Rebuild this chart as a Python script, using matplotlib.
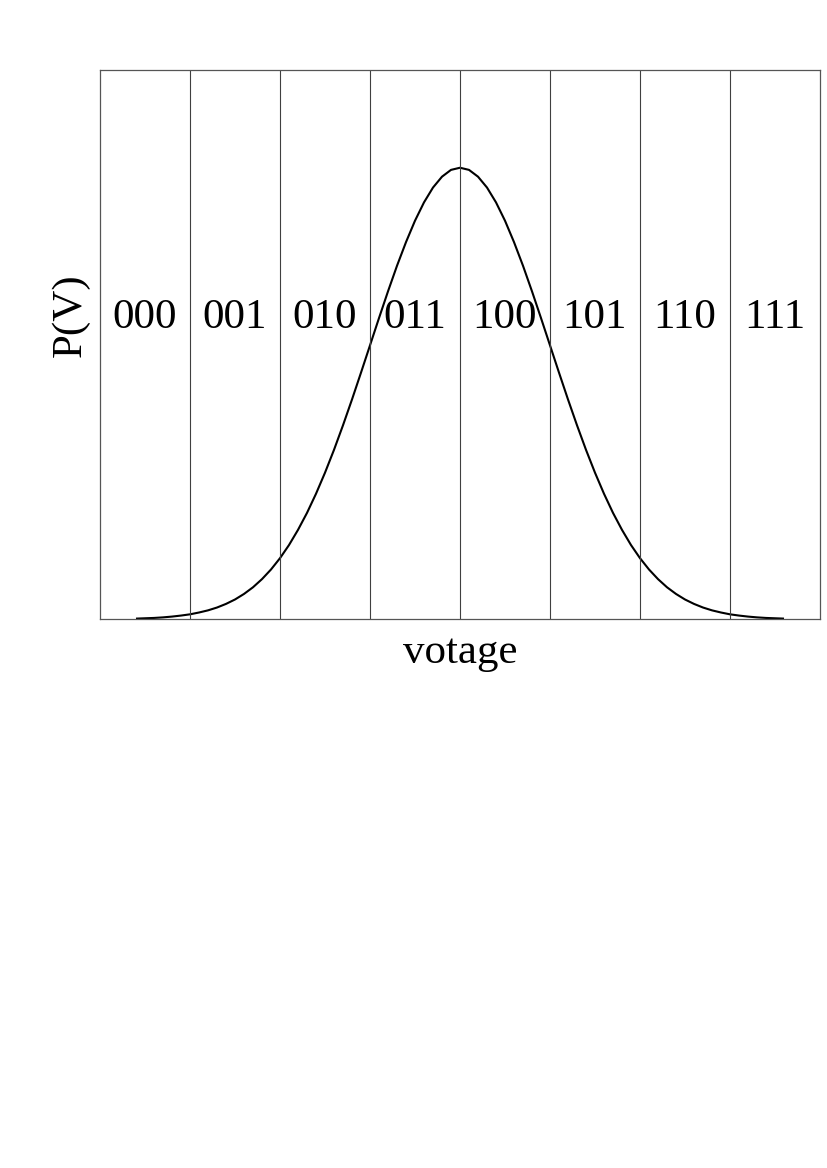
import matplotlib
matplotlib.use("Agg")
import matplotlib.pyplot as plt

plt.rcParams['font.family'] = ['Liberation Serif', 'DejaVu Serif']

# code words, one per voltage bin
codes = ["000", "001", "010", "011", "100", "101", "110", "111"]
bin_edges = [1, 2, 3, 4, 5, 6, 7]

# curve (voltage in bin units, P(V)), left tail -> peak -> right tail
volt = [0.4, 0.5, 0.6, 0.7, 0.8, 0.9, 1.0, 1.1, 1.2, 1.3, 1.4, 1.5, 1.6, 1.7, 1.8, 1.9,
        2.0, 2.1, 2.2, 2.3, 2.4, 2.5, 2.6, 2.7, 2.8, 2.9, 3.0, 3.1, 3.2, 3.3, 3.4, 3.5,
        3.6, 3.7, 3.8, 3.9, 4.0, 4.1, 4.2, 4.3, 4.4, 4.5, 4.6, 4.7, 4.8, 4.9, 5.0, 5.1,
        5.2, 5.3, 5.4, 5.5, 5.6, 5.7, 5.8, 5.9, 6.0, 6.1, 6.2, 6.3, 6.4, 6.5, 6.6, 6.7,
        6.8, 6.9, 7.0, 7.1, 7.2, 7.3, 7.4, 7.5, 7.6]
prob = [0.0006, 0.0009, 0.0012, 0.0017, 0.0024, 0.0033, 0.0044, 0.0060, 0.0079, 0.0104,
        0.0136, 0.0175, 0.0224, 0.0283, 0.0355, 0.0440, 0.0540, 0.0656, 0.0790, 0.0940,
        0.1109, 0.1295, 0.1497, 0.1714, 0.1942, 0.2179, 0.2420, 0.2661, 0.2897, 0.3123,
        0.3332, 0.3521, 0.3683, 0.3814, 0.3910, 0.3970, 0.3989, 0.3970, 0.3910, 0.3814,
        0.3683, 0.3521, 0.3332, 0.3123, 0.2897, 0.2661, 0.2420, 0.2179, 0.1942, 0.1714,
        0.1497, 0.1295, 0.1109, 0.0940, 0.0790, 0.0656, 0.0540, 0.0440, 0.0355, 0.0283,
        0.0224, 0.0175, 0.0136, 0.0104, 0.0079, 0.0060, 0.0044, 0.0033, 0.0024, 0.0017,
        0.0012, 0.0009, 0.0006]

fig = plt.figure(figsize=(8.27, 11.68), dpi=100)
ax = fig.add_axes([100 / 827, 1 - 619.3 / 1168, 720 / 827, 549.6 / 1168])

ax.plot(volt, prob, color='black', lw=1.5, solid_capstyle='butt', solid_joinstyle='round')

for e in bin_edges:
    ax.axvline(e, ymin=0, ymax=1, color='#404040', lw=0.8)

for i, c in enumerate(codes):
    ax.text(i + 0.5, 0.2576, c, ha='center', va='baseline', fontsize=31)

ax.set_xlim(0, 8)
ax.set_ylim(0, 0.4855)
ax.set_xticks([])
ax.set_yticks([])
for s in ax.spines.values():
    s.set_color('#555555')
    s.set_linewidth(0.9)

ax.set_xlabel("votage", fontsize=31)
ax.xaxis.set_label_coords(0.5, -0.025)
ax.set_ylabel("P(V)", fontsize=31)
ax.yaxis.set_label_coords(-0.014, 0.554)

fig.savefig("out.png", dpi=100)
